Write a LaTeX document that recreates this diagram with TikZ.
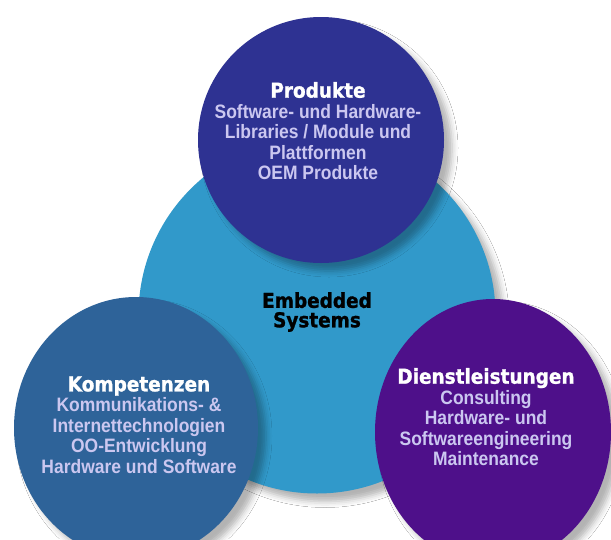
\documentclass[tikz,border=0pt]{standalone}
\usepackage{xcolor}
\usepackage{fontspec}
\setmainfont[FakeStretch=0.9]{Liberation Sans}
\newfontfamily\headfont[FakeStretch=0.9,BoldFeatures={FakeBold=1.2}]{DejaVu Sans}
\usepackage{tikz}
\usetikzlibrary{positioning,shapes.geometric,shadows.blur}
\definecolor{corecyan}{HTML}{3199CA}
\definecolor{prodblue}{HTML}{2E3292}
\definecolor{kompblue}{HTML}{2E6399}
\definecolor{dienstviolet}{HTML}{4E108A}
\definecolor{bodytext}{HTML}{CBC7F0}

\newcommand{\headline}[1]{{\headfont\bfseries\fontsize{20.5}{20}\selectfont\color{white}#1}}

\begin{document}
\begin{tikzpicture}[
  x=1pt,y=-1pt,
  every node/.style={align=center},
  soft/.style={blur shadow={shadow xshift=8pt,shadow yshift=-8pt,shadow blur radius=6pt,shadow opacity=30}},
  disc/.style={circle,inner sep=0pt,minimum size=#1,soft},
  oval/.style 2 args={ellipse,inner sep=0pt,minimum width=#1,minimum height=#2,soft},
  body/.style={text=bodytext,font=\bfseries\fontsize{19.4}{20.5}\selectfont},
  core/.style={text=black,font=\headfont\bfseries\fontsize{20.5}{19.5}\selectfont}
]
\useasboundingbox (0,0) rectangle (611,539);
\fill[white] (0,0) rectangle (611,539);
% circles
\node[disc=357pt,fill=corecyan] (emb) at (317,315) {};
\node[disc=246pt,fill=prodblue] (prod) at (321,140) {};
\node[oval={244pt}{262pt},fill=kompblue] (komp) at (136,428) {};
\node[oval={236pt}{266pt},fill=dienstviolet] (dienst) at (493,432) {};
% texts
\node[core] (embtxt) at ([shift={(0,-3)}]emb.center) {Embedded\\Systems};
\node[body] (prodtxt) at ([shift={(-3,-9)}]prod.center)
  {\headline{Produkte}\\Software- und Hardware-\\Libraries / Module und\\Plattformen\\OEM Produkte};
\node[body] (komptxt) at ([shift={(3,-3)}]komp.center)
  {\headline{Kompetenzen}\\Kommunikations- \&\\Internettechnologien\\OO-Entwicklung\\Hardware und Software};
\node[body] (diensttxt) at ([shift={(-7,-15)}]dienst.center)
  {\headline{Dienstleistungen}\\Consulting\\Hardware- und\\Softwareengineering\\Maintenance};
\end{tikzpicture}
\end{document}
